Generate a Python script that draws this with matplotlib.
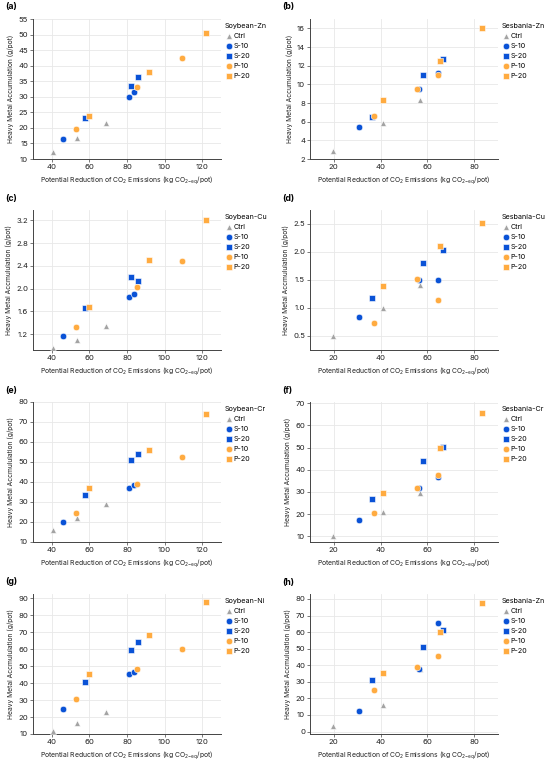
import matplotlib.pyplot as plt

plt.rcParams['font.family'] = ['Inter', 'DejaVu Sans']

groups = ['Ctrl', 'S-10', 'S-20', 'P-10', 'P-20']
colors = ['#a3a3a3', '#0a52d6', '#0a52d6', '#ffab40', '#ffab40']
markers = ['^', 'o', 's', 'o', 's']

# CO2 reduction (x) per group, shared by crop
soy_x = {
    'Ctrl': [40.5, 53.5, 69.0],
    'S-10': [45.8, 81.3, 83.7],
    'S-20': [57.5, 82.3, 86.0],
    'P-10': [52.7, 85.3, 109.0],
    'P-20': [59.7, 91.7, 122.0],
}
ses_x = {
    'Ctrl': [19.8, 41.0, 57.0],
    'S-10': [31.0, 56.3, 64.5],
    'S-20': [36.2, 58.0, 66.5],
    'P-10': [37.3, 55.7, 64.3],
    'P-20': [41.0, 65.5, 83.3],
}

# heavy metal accumulation (y)
soy_zn = {'Ctrl': [12.2, 16.6, 21.7], 'S-10': [16.5, 29.9, 31.4], 'S-20': [23.1, 33.5, 36.2],
          'P-10': [19.5, 33.0, 42.5], 'P-20': [23.9, 37.9, 50.6]}
ses_zn = {'Ctrl': [2.82, 5.9, 8.3], 'S-10': [5.4, 9.55, 11.24], 'S-20': [6.5, 10.95, 12.67],
          'P-10': [6.57, 9.47, 11.05], 'P-20': [8.36, 12.49, 16.0]}
soy_cu = {'Ctrl': [0.963, 1.093, 1.342], 'S-10': [1.16, 1.853, 1.912], 'S-20': [1.651, 2.197, 2.132],
          'P-10': [1.33, 2.031, 2.488], 'P-20': [1.68, 2.494, 3.2]}
ses_cu = {'Ctrl': [0.5, 1.006, 1.41], 'S-10': [0.845, 1.5, 1.5], 'S-20': [1.17, 1.81, 2.04],
          'P-10': [0.74, 1.51, 1.15], 'P-20': [1.39, 2.1, 2.51]}
soy_cr = {'Ctrl': [16.2, 22.2, 29.1], 'S-10': [20.0, 37.1, 38.5], 'S-20': [33.6, 50.8, 54.0],
          'P-10': [24.6, 39.1, 52.7], 'P-20': [36.8, 55.9, 74.1]}
ses_cr = {'Ctrl': [10.3, 21.0, 29.7], 'S-10': [17.3, 31.8, 36.9], 'S-20': [26.9, 44.0, 50.3],
          'P-10': [20.7, 31.9, 37.6], 'P-20': [29.6, 50.0, 65.5]}
soy_ni = {'Ctrl': [11.9, 16.6, 22.9], 'S-10': [25.0, 45.1, 46.6], 'S-20': [40.6, 59.3, 64.1],
          'P-10': [30.5, 48.4, 59.8], 'P-20': [45.1, 68.4, 87.5]}
ses_zn2 = {'Ctrl': [3.2, 16.0, 37.9], 'S-10': [12.2, 37.7, 65.6], 'S-20': [30.9, 51.1, 61.2],
           'P-10': [25.3, 38.7, 45.7], 'P-20': [35.1, 60.2, 77.4]}

panels = [
    ('(a)', 'Soybean-Zn', soy_x, soy_zn, (30, 130), (10, 55), range(10, 56, 5), 'Accumulation'),
    ('(b)', 'Sesbania-Zn', ses_x, ses_zn, (10, 90), (2, 17), range(2, 17, 2), 'Accumulation'),
    ('(c)', 'Soybean-Cu', soy_x, soy_cu, (30, 130), (0.92, 3.38), [1.2, 1.6, 2.0, 2.4, 2.8, 3.2], 'Accmululation'),
    ('(d)', 'Sesbania-Cu', ses_x, ses_cu, (10, 90), (0.25, 2.75), [0.5, 1.0, 1.5, 2.0, 2.5], 'Accmululation'),
    ('(e)', 'Soybean-Cr', soy_x, soy_cr, (30, 130), (10, 80), range(10, 81, 10), 'Accmululation'),
    ('(f)', 'Sesbania-Cr', ses_x, ses_cr, (10, 90), (7.5, 70.5), range(10, 71, 10), 'Accumulation'),
    ('(g)', 'Soybean-Ni', soy_x, soy_ni, (30, 130), (10, 92.5), range(10, 91, 10), 'Accmululation'),
    ('(h)', 'Sesbania-Zn', ses_x, ses_zn2, (10, 90), (-1.5, 83), range(0, 81, 10), 'Accmululation'),
]

W, H = 550, 766
fig = plt.figure(figsize=(W / 100, H / 100), dpi=100)

lefts = [33, 310]
tops = [19, 210, 402, 594]
aw, ah = 188, 140

for i, (lab, title, xs, ys, xl, yl, yt, word) in enumerate(panels):
    row, col = divmod(i, 2)
    l, t = lefts[col], tops[row]
    ax = fig.add_axes([l / W, (H - t - ah) / H, aw / W, ah / H])
    for g, c, m in zip(groups, colors, markers):
        ax.scatter(xs[g], ys[g], s=22 if m != '^' else 18, c=c, marker=m,
                   edgecolors='white', linewidths=0.4, label=g, zorder=3)
    ax.set_xlim(*xl)
    ax.set_ylim(*yl)
    ax.set_yticks(list(yt))
    if xl[0] == 30:
        ax.set_xticks([40, 60, 80, 100, 120])
    else:
        ax.set_xticks([20, 40, 60, 80])
    if isinstance(yt, list):
        ax.set_yticklabels([f'{v:.1f}' for v in yt])
    ax.grid(True, color='#e8e8e8', lw=0.6, zorder=0)
    for s in ['top', 'right']:
        ax.spines[s].set_visible(False)
    for s in ['left', 'bottom']:
        ax.spines[s].set_color('#444444')
        ax.spines[s].set_linewidth(0.7)
    ax.tick_params(labelsize=5.6, length=2, width=0.5, color='#444444', pad=1.5, labelcolor='#222222')
    ax.set_xlabel('Potential Reduction of CO$_2$ Emissions (kg CO$_{2\\mathregular{-eq}}$/pot)',
                  fontsize=4.9, labelpad=3, color='#222222')
    ax.set_ylabel(f'Heavy Metal {word} (g/pot)', fontsize=4.8, labelpad=3, color='#222222')
    ax.legend(title=title, loc='upper left', bbox_to_anchor=(1.0, 1.0), frameon=False,
              fontsize=5.2, title_fontsize=5.2, handletextpad=0.1, labelspacing=0.55,
              borderaxespad=0.3, handlelength=1.1, alignment='left', borderpad=0.2)
    fig.text((l - 28) / W, 1 - (t - 12) / H, lab, fontsize=6.3, fontweight='bold', va='center')

fig.savefig('out.png', dpi=100)
